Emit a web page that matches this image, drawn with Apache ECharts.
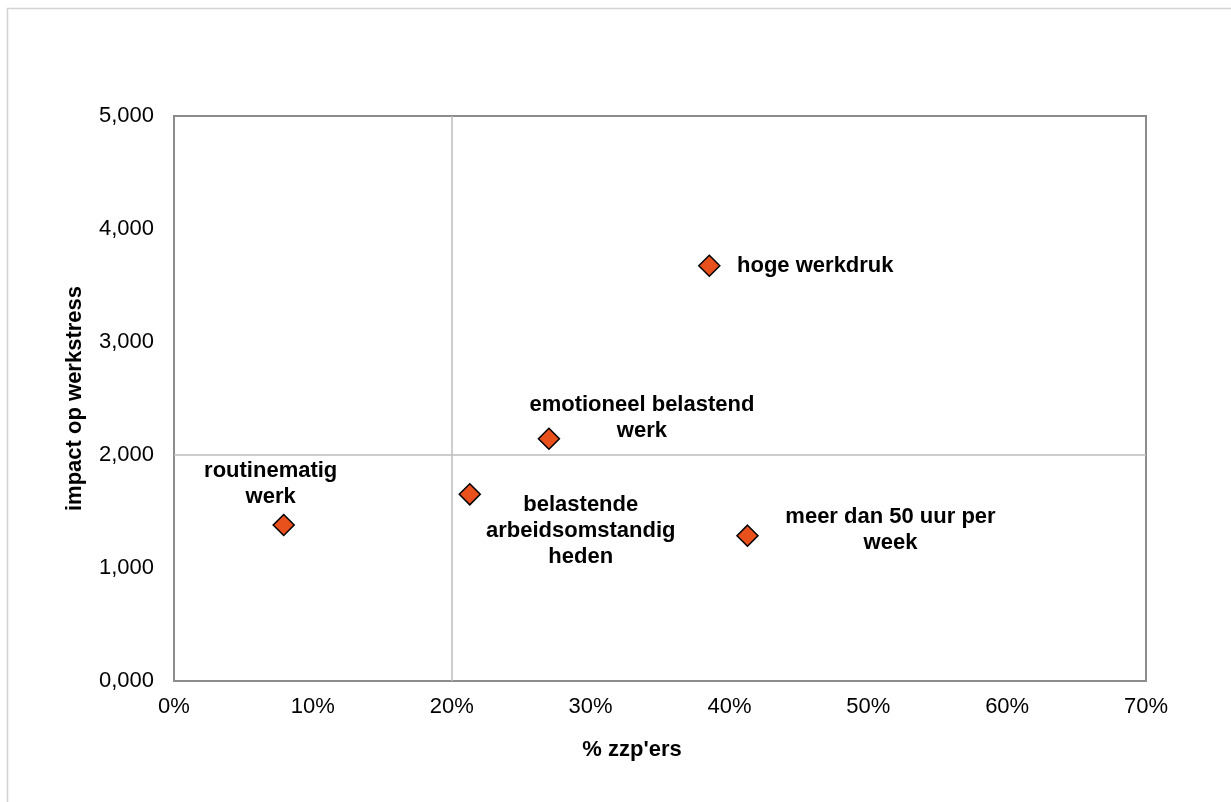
<!DOCTYPE html>
<html lang="nl">
<head>
    <meta charset="utf-8" />
    <title>impact op werkstress</title>
    <script type="text/javascript" src="https://cdn.jsdelivr.net/npm/echarts@6/dist/echarts.min.js"></script>
    <style type="text/css">
        html, body { margin: 0; padding: 0; background: #fff; }
    </style>
</head>
<body>
    <div id="main" style="width:1231px;height:802px;"></div>

    <script type="text/javascript">
        // factoren en waarden (x = aandeel zzp'ers, y = impact op werkstress)
        var factorNames = ['routinematig\nwerk', 'belastende\narbeidsomstandig\nheden', 'emotioneel belastend\nwerk', 'hoge werkdruk', 'meer dan 50 uur per\nweek'];
        var zzpShare = [0.079, 0.213, 0.270, 0.3855, 0.413];
        var stressImpact = [1.380, 1.652, 2.144, 3.675, 1.286];

        // label verschuiving t.o.v. het punt (px)
        var labelOffsets = [[-13, -41], [111, 37], [93, -21], [106, 0], [143, -6]];

        var fontFam = '"Liberation Sans", Arial, sans-serif';

        var points = [];
        for (var i = 0; i < factorNames.length; i++) {
            points.push({
                name: factorNames[i],
                value: [zzpShare[i], stressImpact[i]],
                label: { offset: labelOffsets[i] }
            });
        }

        var myChart = echarts.init(document.getElementById('main'));

        var option = {
            backgroundColor: '#fff',
            animation: false,
            graphic: [{
                type: 'rect',
                shape: { x: 7.5, y: 8.5, width: 1240, height: 820 },
                style: { fill: 'none', stroke: '#d4d4d4', lineWidth: 1.5 },
                silent: true
            }],
            grid: {
                left: 174,
                right: 85,
                top: 116,
                bottom: 121,
                show: true,
                borderColor: '#8c8c8c',
                borderWidth: 2
            },
            xAxis: {
                type: 'value',
                min: 0,
                max: 0.7,
                interval: 0.1,
                name: "% zzp'ers",
                nameLocation: 'middle',
                nameGap: 58,
                nameTextStyle: {
                    fontFamily: fontFam, fontSize: 22, fontWeight: 'bold', color: '#000',
                    padding: [0, 56, 0, 0]
                },
                axisLine: { show: false },
                axisTick: { show: false },
                splitLine: { show: false },
                axisLabel: {
                    margin: 15,
                    fontFamily: fontFam,
                    fontSize: 22,
                    color: '#000',
                    formatter: function (v) { return Math.round(v * 100) + '%'; }
                }
            },
            yAxis: {
                type: 'value',
                min: 0,
                max: 5,
                interval: 1,
                name: 'impact op werkstress',
                nameLocation: 'middle',
                nameGap: 88,
                nameTextStyle: { fontFamily: fontFam, fontSize: 22, fontWeight: 'bold', color: '#000' },
                axisLine: { show: false },
                axisTick: { show: false },
                splitLine: { show: false },
                axisLabel: {
                    margin: 20,
                    fontFamily: fontFam,
                    fontSize: 22,
                    color: '#000',
                    formatter: function (v) { return v.toFixed(3).replace('.', ','); }
                }
            },
            series: [{
                type: 'scatter',
                symbol: 'diamond',
                symbolSize: 21,
                itemStyle: { color: '#E8501C', borderColor: '#000', borderWidth: 1.5, opacity: 1 },
                label: {
                    show: true,
                    position: 'inside',
                    align: 'center',
                    verticalAlign: 'middle',
                    fontFamily: fontFam,
                    fontSize: 22,
                    fontWeight: 'bold',
                    lineHeight: 26,
                    color: '#000',
                    opacity: 1,
                    textBorderWidth: 0,
                    formatter: function (p) { return p.name; }
                },
                emphasis: { disabled: true },
                markLine: {
                    silent: true,
                    symbol: 'none',
                    label: { show: false },
                    lineStyle: { color: '#bdbdbd', width: 1.5, type: 'solid' },
                    data: [{ xAxis: 0.2 }, { yAxis: 2 }]
                },
                data: points,
                z: 3
            }]
        };
        myChart.setOption(option, true);
    </script>
</body>
</html>
